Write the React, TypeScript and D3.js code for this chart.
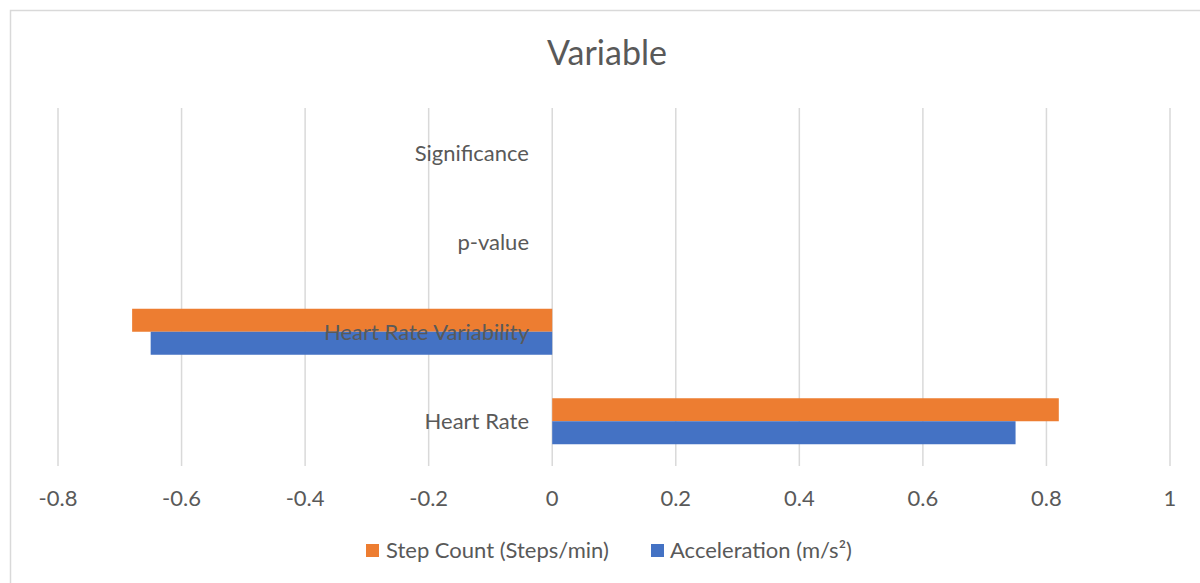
import React from "react";
import * as d3 from "d3";

const categories = ["Heart Rate", "Heart Rate Variability", "p-value", "Significance"];
const stepCount: (number | null)[] = [0.82, -0.68, null, null];
const acceleration: (number | null)[] = [0.75, -0.65, null, null];
const xTicks = [-0.8, -0.6, -0.4, -0.2, 0, 0.2, 0.4, 0.6, 0.8, 1];
const seriesNames = ["Step Count (Steps/min)", "Acceleration (m/s²)"];
const colors = ["#ED7D31", "#4472C4"];

const W = 1200;
const H = 583;
const FONT = "Lato, 'Open Sans', sans-serif";
const TXT = "#595959";

export default function App() {
  const x = d3.scaleLinear().domain([-0.8, 1]).range([58, 1170]);
  const y = d3
    .scaleBand<string>()
    .domain([...categories].reverse())
    .range([108, 466])
    .paddingInner(0.486)
    .paddingOuter(0.243);
  const sub = d3.scaleBand<string>().domain(["s", "a"]).range([0, y.bandwidth()]);
  const series = [
    { key: "s", values: stepCount, color: colors[0] },
    { key: "a", values: acceleration, color: colors[1] },
  ];
  const center = (c: string) => (y(c) as number) + y.bandwidth() / 2;

  return (
    <svg width={W} height={H} style={{ position: "absolute", left: 0, top: 0, background: "#fff" }}>
      <rect x={10.5} y={10.5} width={W + 10} height={H + 10} fill="#fff" stroke="#d9d9d9" strokeWidth={1.5} />
      <text x={607} y={65} textAnchor="middle" fontFamily={FONT} fontSize={34} fill={TXT}>
        Variable
      </text>
      {xTicks.map((t) => (
        <line key={t} x1={x(t)} x2={x(t)} y1={108} y2={466} stroke="#d9d9d9" strokeWidth={1.5} />
      ))}
      {series.map((s) =>
        categories.map((c, i) => {
          const v = s.values[i];
          if (v == null) return null;
          const x0 = x(Math.min(0, v));
          const x1 = x(Math.max(0, v));
          return (
            <rect
              key={s.key + c}
              x={x0}
              width={x1 - x0}
              y={(y(c) as number) + (sub(s.key) as number)}
              height={sub.bandwidth()}
              fill={s.color}
            />
          );
        })
      )}
      {categories.map((c) => (
        <text key={c} x={529} y={center(c) + 8} textAnchor="end" fontFamily={FONT} fontSize={22} fill={TXT}>
          {c}
        </text>
      ))}
      {xTicks.map((t) => (
        <text key={t} x={x(t)} y={506} textAnchor="middle" fontFamily={FONT} fontSize={22} fill={TXT}>
          {String(t)}
        </text>
      ))}
      <g>
        <rect x={366} y={544} width={13} height={13} fill={colors[0]} />
        <text x={386} y={558} fontFamily={FONT} fontSize={22} fill={TXT}>
          {seriesNames[0]}
        </text>
        <rect x={651} y={544} width={13} height={13} fill={colors[1]} />
        <text x={670} y={558} fontFamily={FONT} fontSize={22} fill={TXT}>
          {seriesNames[1]}
        </text>
      </g>
    </svg>
  );
}
